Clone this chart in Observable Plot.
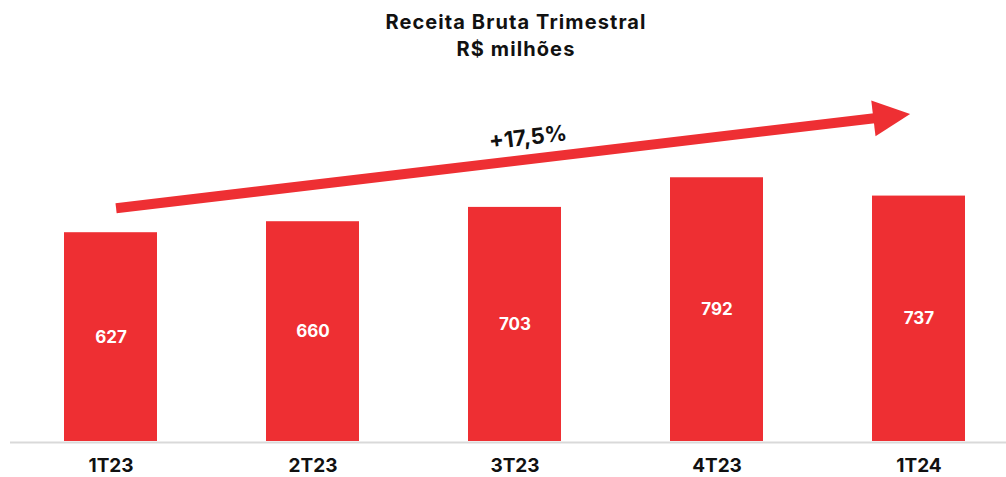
<!DOCTYPE html>
<html>
<head>
<meta charset="utf-8">
<script src="https://cdn.jsdelivr.net/npm/d3@7"></script>
<script src="https://cdn.jsdelivr.net/npm/@observablehq/plot@0.6"></script>
<style>
  html, body { margin: 0; padding: 0; background: #fff; }
  body { width: 1006px; height: 477px; overflow: hidden; font-family: Inter, "Noto Sans", sans-serif; }
  #title { height: 70px; box-sizing: border-box; padding-top: 9px; text-align: center; font-weight: 700; font-size: 20px; letter-spacing: 1.1px; line-height: 27px; color: #111; padding-left: 26px; }
  #chart svg { display: block; }
</style>
</head>
<body>
<div id="title"><div>Receita Bruta Trimestral</div><div>R$ milhões</div></div>
<div id="chart"></div>
<script>
const categories = ["1T23", "2T23", "3T23", "4T23", "1T24"];
const values = [627, 660, 703, 792, 737];
const growthLabel = "+17,5%";
// arrow annotation: category, fraction across the bar, value level
const arrowStart = ["1T23", 0.56, 699];
const arrowEnd = ["1T24", 0.41, 982];
const labelAt = ["3T23", 13, 912];

const RED = "#EE2F33";
const data = categories.map((c, i) => ({cat: c, value: values[i]}));

function arrowMark(index, scales, values_, dimensions) {
  const sx = scales.x, sy = scales.y;
  const bw = typeof sx.bandwidth === "function" ? sx.bandwidth() : (sx.bandwidth || 0);
  const x0 = sx(arrowStart[0]) + bw * arrowStart[1], y0 = sy(arrowStart[2]);
  const x1 = sx(arrowEnd[0]) + bw * arrowEnd[1], y1 = sy(arrowEnd[2]);
  const dx = x1 - x0, dy = y1 - y0, L = Math.hypot(dx, dy);
  const ux = dx / L, uy = dy / L, nx = -uy, ny = ux;
  const headLen = 37, headHalf = 18, shaftHalf = 5;
  const bx = x1 - ux * headLen, by = y1 - uy * headLen;
  const g = d3.create("svg:g");
  const pts = [
    [x0 + nx * shaftHalf, y0 + ny * shaftHalf],
    [bx + ux + nx * shaftHalf, by + uy + ny * shaftHalf],
    [bx + ux - nx * shaftHalf, by + uy - ny * shaftHalf],
    [x0 - nx * shaftHalf, y0 - ny * shaftHalf]
  ];
  g.append("polygon").attr("points", pts.map(p => p.join(",")).join(" ")).attr("fill", RED);
  const head = [
    [x1, y1],
    [bx + nx * headHalf, by + ny * headHalf],
    [bx - nx * headHalf, by - ny * headHalf]
  ];
  g.append("polygon").attr("points", head.map(p => p.join(",")).join(" ")).attr("fill", RED);
  return g.node();
}

const angle = Math.atan2(-(982 - 699) / 3, (910 - 116)) * 180 / Math.PI;

const chart = Plot.plot({
  width: 1006,
  height: 407,
  marginLeft: 10,
  marginRight: 0,
  marginTop: 38,
  marginBottom: 36,
  style: {fontFamily: "Inter, 'Noto Sans', sans-serif", background: "#fff"},
  x: {domain: categories, paddingInner: 0.54, paddingOuter: 0.235, align: 0.568, label: null},
  y: {domain: [0, 1000], axis: null},
  marks: [
    Plot.ruleY([0], {stroke: "#D9D9D9", strokeWidth: 2, dy: 1}),
    Plot.barY(data, {x: "cat", y: "value", fill: RED}),
    Plot.text(data, {x: "cat", y: d => d.value / 2, text: d => String(d.value), fill: "#fff", fontSize: 17, fontWeight: 700}),
    Plot.axisX({tickSize: 0, tickPadding: 17, fontSize: 19, fontWeight: 700, fill: "#111", label: null}),
    arrowMark,
    Plot.text([growthLabel], {x: () => labelAt[0], y: () => labelAt[2], dx: labelAt[1], text: d => d, rotate: angle, fontSize: 22, fontWeight: 700, fill: "#111"})
  ]
});
document.getElementById("chart").appendChild(chart);
</script>
</body>
</html>
